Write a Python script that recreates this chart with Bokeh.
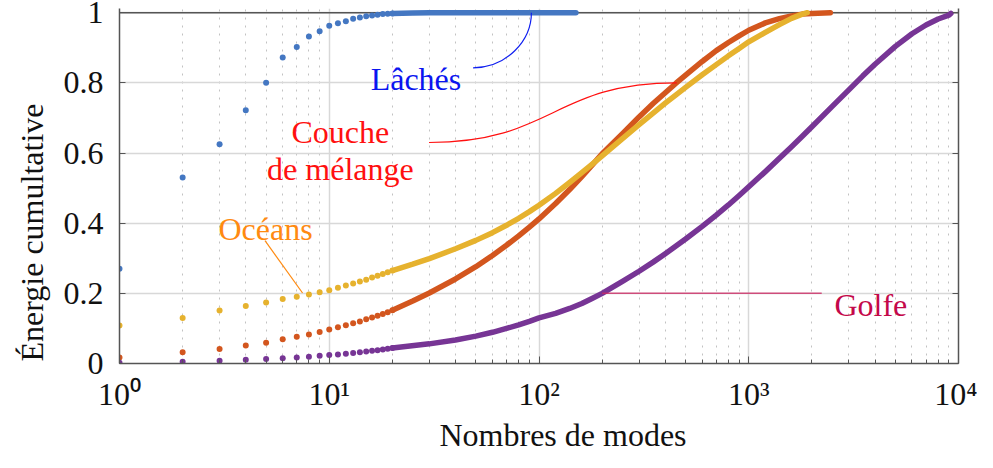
import math
from bokeh.plotting import figure
from bokeh.models import FixedTicker, CustomJSTickFormatter, LinearAxis, Span, Title
from bokeh.core.properties import value
from bokeh.embed import file_html
from bokeh.resources import INLINE

# ---------------- data ----------------
lache_x = [1, 2, 3, 4, 5, 6, 7, 8, 9, 10, 11, 12, 13, 14, 15, 16, 17, 18, 19, 20,
           25, 30, 40, 60, 100, 150]
lache_y = [0.27, 0.53, 0.625, 0.722, 0.80, 0.872, 0.902, 0.932, 0.947, 0.963,
           0.970, 0.976, 0.983, 0.986, 0.990, 0.992, 0.994, 0.996, 0.997, 0.998,
           0.999, 1.0, 1.0, 1.0, 1.0, 1.0]

oceans_x = [1, 2, 3, 4, 5, 6, 7, 8, 9, 10, 11, 12, 13, 14, 15, 16, 17, 18, 19, 20,
            25, 30, 40, 50, 60, 70, 80, 90, 100, 120, 140, 160, 180, 200, 250, 300,
            350, 400, 450, 500, 600, 700, 800, 900, 1000, 1200, 1400, 1600, 1800, 1900]
oceans_y = [0.108, 0.130, 0.151, 0.164, 0.174, 0.184, 0.190, 0.197, 0.203, 0.209,
            0.216, 0.222, 0.228, 0.234, 0.239, 0.245, 0.250, 0.255, 0.260, 0.265,
            0.283, 0.299, 0.327, 0.351, 0.373, 0.394, 0.414, 0.433, 0.451, 0.485,
            0.516, 0.544, 0.569, 0.592, 0.641, 0.681, 0.714, 0.742, 0.766, 0.787,
            0.823, 0.852, 0.877, 0.898, 0.917, 0.944, 0.966, 0.984, 0.996, 1.0]

couche_x = [1, 2, 3, 4, 5, 6, 7, 8, 9, 10, 11, 12, 13, 14, 15, 16, 17, 18, 19, 20,
            25, 30, 40, 50, 60, 70, 80, 90, 100, 120, 140, 160, 180, 200, 250, 300,
            350, 400, 450, 500, 600, 700, 800, 900, 1000, 1200, 1400, 1600, 1800, 2000,
            2450]
couche_y = [0.017, 0.032, 0.041, 0.051, 0.059, 0.069, 0.076, 0.083, 0.090, 0.097,
            0.103, 0.109, 0.115, 0.120, 0.126, 0.131, 0.136, 0.141, 0.146, 0.152,
            0.178, 0.201, 0.241, 0.276, 0.308, 0.337, 0.364, 0.389, 0.412, 0.456,
            0.496, 0.533, 0.567, 0.598, 0.655, 0.703, 0.741, 0.772, 0.799, 0.822,
            0.861, 0.892, 0.915, 0.934, 0.950, 0.971, 0.983, 0.991, 0.996, 0.998,
            1.0]

golfe_x = [1, 2, 3, 4, 5, 6, 7, 8, 9, 10, 11, 12, 13, 14, 15, 16, 17, 18, 19, 20,
           30, 40, 50, 60, 70, 80, 90, 100, 120, 140, 160, 180, 200, 250, 300, 350,
           400, 500, 600, 700, 800, 900, 1000, 1200, 1400, 1600, 1800, 2000, 2500,
           3000, 3500, 4000, 5000, 6000, 7000, 8000, 9000, 9200]
golfe_y = [0.002, 0.005, 0.008, 0.011, 0.013, 0.015, 0.017, 0.019, 0.022, 0.024,
           0.026, 0.028, 0.030, 0.032, 0.034, 0.036, 0.038, 0.040, 0.042, 0.044,
           0.056, 0.067, 0.078, 0.089, 0.100, 0.110, 0.120, 0.130, 0.143, 0.157,
           0.171, 0.186, 0.200, 0.234, 0.263, 0.289, 0.313, 0.355, 0.391, 0.423,
           0.452, 0.479, 0.504, 0.547, 0.585, 0.618, 0.648, 0.675, 0.733, 0.780,
           0.820, 0.853, 0.904, 0.940, 0.965, 0.982, 0.993, 0.998]

x_tick_values = [1, 10, 100, 1000, 10000]
x_tick_labels = ["10\u2070", "10\u00b9", "10\u00b2", "10\u00b3", "10\u2074"]
y_tick_values = [0, 0.2, 0.4, 0.6, 0.8, 1.0]
y_tick_labels = ["0", "0.2", "0.4", "0.6", "0.8", "1"]

series_names = ["Lâchés", "Couche de mélange", "Océans", "Golfe"]
x_label = "Nombres de modes"
y_label = "Énergie cumultative"

# ---------------- styling ----------------
FONT = "Liberation Serif"
FS = "32px"
C_LACHE = "#4477c2"
C_COUCHE = "#d3561e"
C_OCEANS = "#e6b22e"
C_GOLFE = "#773595"
AX = "#555555"
DOT_MAX = 20

p = figure(width=977, height=452, x_axis_type="log", x_range=(1, 10000),
           y_range=(0, 1.012), output_backend="svg", toolbar_location=None,
           min_border_left=117, min_border_right=19, min_border_top=8,
           min_border_bottom=88)
p.outline_line_color = None
p.background_fill_color = "white"
p.border_fill_color = "white"

minor = [m * 10 ** k for k in range(4) for m in range(2, 10)]
xt = FixedTicker(ticks=x_tick_values, minor_ticks=minor)
yt = FixedTicker(ticks=y_tick_values, minor_ticks=[])
fmt_code = """
const i = vals.findIndex(v => Math.abs(v - tick) <= 1e-6 * Math.max(1, Math.abs(v)));
return i >= 0 ? labs[i] : '';
"""
xa = p.xaxis[0]
xa.ticker = xt
xa.formatter = CustomJSTickFormatter(args=dict(vals=x_tick_values, labs=x_tick_labels), code=fmt_code)
ya = p.yaxis[0]
ya.ticker = yt
ya.formatter = CustomJSTickFormatter(args=dict(vals=y_tick_values, labs=y_tick_labels), code=fmt_code)

for ax in (xa, ya):
    ax.axis_line_color = AX
    ax.axis_line_width = 1.5
    ax.major_tick_line_color = AX
    ax.minor_tick_line_color = AX
    ax.major_tick_out = 0
    ax.minor_tick_out = 0
    ax.major_label_text_font = FONT
    ax.major_label_text_font_size = FS
    ax.major_label_text_color = "#111111"
xa.major_tick_in = 7
xa.minor_tick_in = 4
xa.major_label_standoff = 12
ya.major_tick_in = 6
ya.minor_tick_in = 0
ya.major_label_standoff = 16

ra = LinearAxis(ticker=FixedTicker(ticks=y_tick_values, minor_ticks=[]),
                formatter=CustomJSTickFormatter(code="return '';"),
                axis_line_color=AX, axis_line_width=1.5, major_tick_line_color=AX,
                major_tick_in=6, major_tick_out=0, minor_tick_in=0, minor_tick_out=0,
                major_label_standoff=0, major_label_text_font_size="1px")
p.add_layout(ra, "right")

p.xgrid.ticker = xt
p.ygrid.ticker = yt
p.xgrid.grid_line_color = "#d8d8d8"
p.xgrid.grid_line_width = 1.5
p.xgrid.minor_grid_line_color = "#c2c2c2"
p.xgrid.minor_grid_line_dash = "2 6"
p.xgrid.minor_grid_line_width = 1
p.ygrid.grid_line_color = "#d8d8d8"
p.ygrid.grid_line_width = 1.5

p.add_layout(Span(location=1, dimension="width", line_color=AX, line_width=1.5,
                  level="underlay"))

def draw(xs, ys, color):
    lx = [x for x in xs if x >= DOT_MAX]
    ly = [y for x, y in zip(xs, ys) if x >= DOT_MAX]
    dx = [x for x in xs if x <= DOT_MAX]
    dy = [y for x, y in zip(xs, ys) if x <= DOT_MAX]
    p.line(lx, ly, line_color=color, line_width=5.5, line_cap="round", line_join="round")
    p.scatter(dx, dy, size=6, fill_color=color, line_color=None)

draw(lache_x, lache_y, C_LACHE)
draw(couche_x, couche_y, C_COUCHE)
draw(oceans_x, oceans_y, C_OCEANS)
draw(golfe_x, golfe_y, C_GOLFE)

# ---------------- annotations ----------------
p.text(x=[25.9], y=[0.812], text=[series_names[0]], text_font=value(FONT),
       text_font_size=value(FS), text_color="#0a14f0", text_align="center",
       text_baseline="alphabetic")
p.bezier(x0=[48.5], y0=[0.843], cx0=[70.0], cy0=[0.843], cx1=[92.0], cy1=[0.92],
         x1=[92.0], y1=[1.0], line_color="#1020f0", line_width=1.2)
p.text(x=[11.3, 11.3], y=[0.659, 0.554], text=["Couche", "de mélange"],
       text_font=value(FONT), text_font_size=value(FS), text_color="#ff1010",
       text_align="center", text_baseline="alphabetic")
p.bezier(x0=[29.9], y0=[0.630], cx0=[116.6], cy0=[0.630], cx1=[116.6], cy1=[0.80],
         x1=[454], y1=[0.80], line_color="#ff1010", line_width=1.2)
p.text(x=[4.97], y=[0.3835], text=[series_names[2]], text_font=value(FONT),
       text_font_size=value(FS), text_color="#ff8a10", text_align="center",
       text_baseline="alphabetic")
p.line([4.94, 7.46], [0.350, 0.201], line_color="#ff8a10", line_width=1.2)
p.line([200, 2228], [0.2, 0.2], line_color="#cc2a64", line_width=1.5, line_alpha=0.8)
p.text(x=[2560], y=[0.167], text=[series_names[3]], text_font=value(FONT),
       text_font_size=value(FS), text_color="#c4084a", text_align="left",
       text_baseline="alphabetic")

# axis titles
p.add_layout(Title(text=x_label, align="left", offset=320, standoff=0,
                   vertical_align="bottom", text_font=FONT, text_font_size=FS,
                   text_font_style="normal", text_color="#111111"), "below")
p.add_layout(Title(text=y_label, align="left", offset=2, standoff=22,
                   vertical_align="bottom", text_font=FONT, text_font_size=FS,
                   text_font_style="normal", text_color="#111111"), "left")

open("out.html", "w").write(file_html(p, INLINE))
